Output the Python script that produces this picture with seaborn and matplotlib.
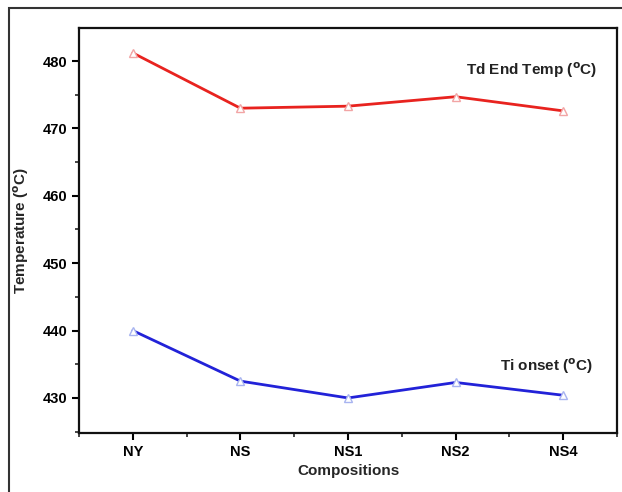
import matplotlib
matplotlib.use("Agg")
import matplotlib.pyplot as plt
import seaborn as sns
import pandas as pd
from matplotlib.patches import Rectangle
from matplotlib.ticker import MultipleLocator

compositions = ["NY", "NS", "NS1", "NS2", "NS4"]
td_end_temp = [481.2, 473.0, 473.3, 474.7, 472.6]
ti_onset = [440.0, 432.5, 430.0, 432.3, 430.4]

df = pd.DataFrame({
    "Composition": compositions * 2,
    "Temperature": td_end_temp + ti_onset,
    "Series": ["Td"] * len(compositions) + ["Ti"] * len(compositions),
})

sns.set_style("ticks")
plt.rcParams["font.family"] = ["Liberation Sans", "DejaVu Sans"]
plt.rcParams["font.weight"] = "bold"

fig = plt.figure(figsize=(6.22, 4.92), dpi=100)
ax = fig.add_axes([79 / 622, 1 - 433 / 492, (617 - 79) / 622, (433 - 28) / 492])

styles = {"Td": ("#e8231f", "#f2a5a5"), "Ti": ("#2222d8", "#a8b4f0")}
for name, (lc, mc) in styles.items():
    sub = df[df["Series"] == name]
    sns.lineplot(data=sub, x="Composition", y="Temperature", ax=ax, color=lc,
                 linewidth=2, marker="^", markersize=6, markerfacecolor="white",
                 markeredgecolor=mc, markeredgewidth=1, sort=False, legend=False)

ax.set_xlim(-0.5, 4.5)
ax.set_ylim(424.8, 484.9)
ax.yaxis.set_major_locator(MultipleLocator(10))
ax.yaxis.set_minor_locator(MultipleLocator(5))
ax.xaxis.set_minor_locator(MultipleLocator(0.5))
ax.tick_params(which="major", direction="out", length=5, width=1.5, labelsize=10.5, colors="black")
ax.tick_params(which="minor", direction="out", length=3, width=1.2)
for s in ax.spines.values():
    s.set_visible(True)
    s.set_linewidth(1.6)
    s.set_color("#111111")
for lab in ax.get_xticklabels() + ax.get_yticklabels():
    lab.set_fontweight("bold")

sup = "$^{\\rm o}$"
ax.set_xlabel("Compositions", fontsize=11, fontweight="bold", labelpad=4)
ax.set_ylabel("Temperature (" + sup + "C)", fontsize=11, fontweight="bold", labelpad=8)

ax.text(4.32, 478.7, "Td End Temp (" + sup + "C)", ha="right", va="center",
        fontsize=11, fontweight="bold", color="#222222")
ax.text(4.28, 434.7, "Ti onset (" + sup + "C)", ha="right", va="center",
        fontsize=11, fontweight="bold", color="#222222")

fig.add_artist(Rectangle((9 / 622, -0.2), 2, 1 - 8 / 492 + 0.2, transform=fig.transFigure,
                         fill=False, edgecolor="#333333", linewidth=1.5))

fig.savefig("out.png", dpi=100, facecolor="white")
